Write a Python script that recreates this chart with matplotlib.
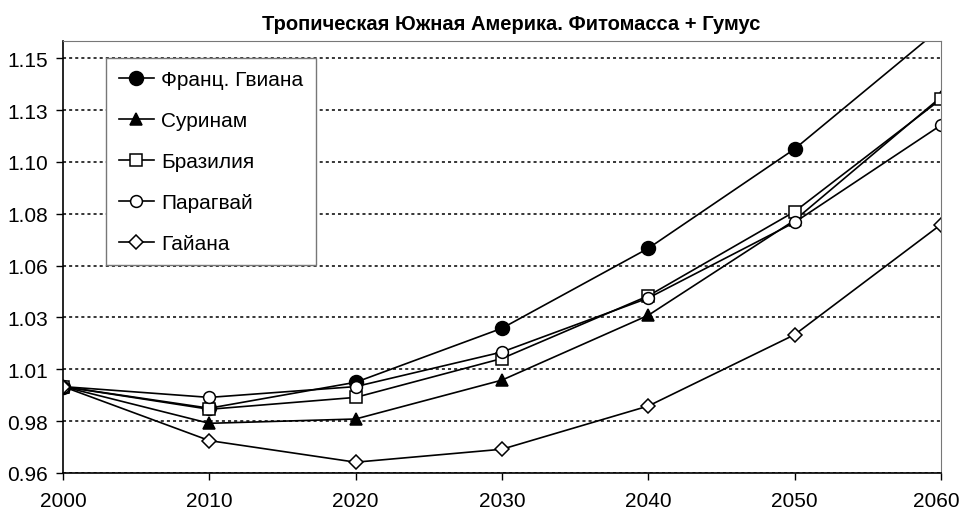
import numpy as np
import matplotlib.pyplot as plt
import matplotlib.transforms as mtransforms
from matplotlib.ticker import FormatStrFormatter

years = [2000, 2010, 2020, 2030, 2040, 2050, 2060]

fr_guiana = [1.000, 0.990, 1.002, 1.027, 1.064, 1.110, 1.166]
suriname = [1.000, 0.983, 0.985, 1.003, 1.033, 1.077, 1.134]
brazil = [1.000, 0.9895, 0.995, 1.013, 1.042, 1.081, 1.133]
paraguay = [1.000, 0.995, 1.000, 1.016, 1.041, 1.076, 1.121]
guyana = [1.000, 0.975, 0.965, 0.971, 0.991, 1.024, 1.075]

names = ['Франц. Гвиана', 'Суринам', 'Бразилия', 'Парагвай', 'Гайана']
yticks = [0.96 + 0.024 * k for k in range(9)]

plt.rcParams['font.family'] = ['Liberation Sans', 'DejaVu Sans']

fig = plt.figure(figsize=(9.61, 5.10), dpi=100)
ax = fig.add_axes([0.0656, 0.0706, 0.9134, 0.847])

styles = [
    dict(marker='o', markersize=10, markerfacecolor='black'),
    dict(marker='^', markersize=9, markerfacecolor='black'),
    dict(marker='s', markersize=8, markerfacecolor='white'),
    dict(marker='o', markersize=8.5, markerfacecolor='white'),
    dict(marker='D', markersize=7, markerfacecolor='white'),
]
series = [fr_guiana, suriname, brazil, paraguay, guyana]

for vals, name, st in zip(series, names, styles):
    ax.plot(years, vals, color='black', linewidth=1.2,
            markeredgecolor='black', markeredgewidth=1.1, label=name, **st)

ax.set_xlim(2000, 2060)
ax.set_ylim(0.96, 1.16)
ax.set_xticks(years)
ax.set_yticks(yticks)
ax.yaxis.set_major_formatter(FormatStrFormatter('%.2f'))
ax.tick_params(labelsize=15, length=5, width=1, direction='out')
ax.tick_params(axis='x', pad=8)
ax.tick_params(axis='y', pad=6)

# keep the last year label inside the figure
lbl = ax.get_xticklabels()[-1]
lbl.set_transform(lbl.get_transform() +
                  mtransforms.ScaledTranslation(-5/100, 0, fig.dpi_scale_trans))

ax.grid(axis='y', linestyle=(0, (2, 2)), color='black', linewidth=1.1)
ax.set_axisbelow(True)

ax.spines['top'].set_color('#777777')
ax.spines['right'].set_color('#777777')
ax.spines['left'].set_linewidth(1.2)
ax.spines['bottom'].set_linewidth(1.2)

ax.set_title('Тропическая Южная Америка. Фитомасса + Гумус',
             fontsize=14.5, fontweight='bold', pad=9, x=0.51)

leg = ax.legend(loc='upper left', bbox_to_anchor=(0.049, 0.961), fontsize=15,
                handlelength=1.7, handletextpad=0.35, labelspacing=1.05,
                borderpad=0.6, borderaxespad=0,
                fancybox=False, framealpha=1, edgecolor='#777777')
leg.get_frame().set_linewidth(1.0)

plt.savefig('out.png', dpi=100)
